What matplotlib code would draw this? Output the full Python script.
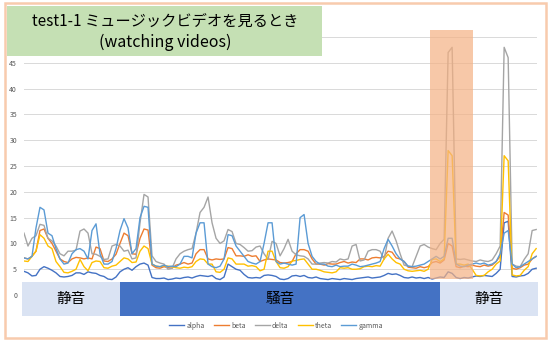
import numpy as np
import matplotlib.pyplot as plt
from matplotlib.patches import Rectangle

plt.rcParams['font.family'] = ['Noto Sans CJK JP', 'DejaVu Sans']

# ========= data =========
alpha = [4.6, 4.3, 3.7, 3.8, 5.0, 5.5, 5.2, 4.8, 4.3, 3.6,
         3.5, 3.6, 3.8, 4.3, 4.3, 4.0, 4.5, 4.3, 4.2, 3.8,
         3.6, 3.1, 3.0, 3.5, 4.5, 5.0, 5.3, 4.8, 5.5, 6.0,
         6.2, 5.8, 3.4, 3.2, 3.2, 3.3, 3.0, 3.1, 3.3, 3.2,
         3.4, 3.5, 3.3, 3.6, 3.8, 3.7, 3.6, 3.8, 3.2, 3.0,
         3.5, 6.0, 5.5, 5.0, 4.8, 4.0, 3.4, 3.3, 3.4, 3.3,
         3.8, 3.9, 3.8, 3.6, 3.1, 3.0, 3.2, 3.7, 3.8, 3.6,
         3.8, 3.4, 3.3, 3.5, 3.2, 3.1, 3.0, 3.2, 3.1, 3.0,
         3.2, 3.1, 3.0, 3.2, 3.3, 3.4, 3.5, 3.3, 3.4, 3.5,
         3.8, 4.2, 4.0, 4.1, 3.8, 3.4, 3.3, 3.5, 3.3, 3.4,
         3.2, 3.4, 3.1, 3.3, 3.5, 3.4, 4.5, 4.2, 3.4, 3.2,
         3.4, 3.3, 3.5, 3.7, 3.6, 3.8, 3.7, 3.6, 4.2, 5.0,
         14.0, 14.3, 3.6, 3.5, 3.7, 3.8, 4.2, 5.0, 5.2]

beta = [7.2, 7.0, 7.5, 8.5, 12.5, 12.8, 11.0, 10.0, 8.5, 7.0,
        6.5, 6.3, 7.0, 7.3, 7.2, 7.0, 7.2, 7.0, 9.3, 9.0,
        6.6, 6.5, 7.0, 7.9, 10.0, 12.0, 11.5, 8.0, 7.9, 11.0,
        12.8, 12.6, 5.8, 5.3, 5.2, 5.5, 5.3, 5.2, 5.8, 6.0,
        6.3, 6.0, 6.2, 8.0, 8.8, 8.8, 7.0, 6.8, 7.0, 6.9,
        7.0, 9.2, 9.0, 7.6, 7.6, 7.5, 7.8, 7.5, 7.6, 6.5,
        6.8, 7.0, 6.9, 6.8, 6.3, 6.2, 6.3, 6.5, 8.0, 8.8,
        8.8, 8.5, 7.0, 6.0, 6.0, 5.8, 6.1, 6.0, 6.0, 6.3,
        6.5, 6.2, 6.4, 6.3, 7.0, 7.0, 6.8, 7.2, 7.3, 7.2,
        7.5, 8.5, 8.3, 7.2, 7.0, 6.5, 5.4, 5.3, 5.2, 5.5,
        5.3, 5.5, 6.3, 6.5, 6.2, 6.8, 10.0, 9.5, 5.5, 5.3,
        5.6, 5.5, 5.8, 5.6, 5.5, 5.8, 5.6, 5.8, 6.5, 7.5,
        16.0, 15.5, 5.2, 5.0, 5.3, 5.8, 6.0, 7.0, 7.5]

delta = [12.0, 9.5, 11.0, 11.5, 13.7, 13.5, 11.0, 10.5, 9.5, 8.0,
         7.6, 8.5, 8.5, 8.7, 12.4, 12.8, 12.0, 8.0, 7.9, 7.5,
         6.9, 7.0, 9.5, 9.8, 9.5, 8.5, 8.7, 7.0, 7.2, 14.0,
         19.5, 19.0, 7.6, 6.5, 6.2, 6.0, 5.0, 5.2, 7.0, 8.0,
         8.5, 8.8, 9.0, 12.0, 16.0, 17.0, 19.0, 14.0, 11.0, 10.0,
         10.5, 12.7, 12.3, 10.0, 9.8, 9.2, 8.5, 8.6, 9.3, 9.5,
         8.0, 6.9, 10.4, 10.0, 7.6, 9.0, 10.8, 8.5, 7.8, 7.6,
         7.5, 7.0, 6.0, 6.0, 6.2, 6.3, 6.2, 6.5, 6.4, 7.0,
         6.8, 7.0, 9.5, 9.8, 6.6, 6.8, 8.5, 8.8, 8.8, 8.5,
         6.9, 11.0, 12.4, 10.5, 8.0, 5.8, 5.6, 5.5, 7.5, 9.5,
         9.8, 9.3, 9.0, 8.8, 10.0, 10.8, 47.0, 48.0, 7.0, 6.9,
         7.0, 6.8, 6.6, 6.5, 6.8, 6.6, 6.5, 6.8, 8.0, 9.5,
         48.0, 46.0, 6.0, 5.6, 5.5, 6.9, 8.0, 12.5, 12.7]

theta = [6.6, 6.5, 7.5, 8.5, 11.7, 11.0, 9.5, 9.0, 6.5, 5.5,
         4.4, 4.3, 4.6, 5.0, 6.9, 5.5, 4.7, 6.3, 6.6, 6.5,
         5.3, 5.2, 5.6, 5.8, 6.5, 7.2, 7.0, 6.3, 6.4, 8.5,
         9.5, 9.0, 6.0, 5.6, 5.5, 5.7, 5.6, 5.5, 5.3, 5.2,
         5.4, 5.3, 5.5, 6.5, 7.0, 6.9, 6.0, 6.0, 4.5, 4.4,
         5.0, 7.2, 7.0, 6.0, 6.0, 6.0, 5.6, 5.7, 5.5, 4.7,
         5.0, 8.5, 8.5, 6.5, 5.3, 5.2, 5.5, 6.6, 6.7, 6.9,
         7.0, 6.0, 5.0, 5.0, 4.8, 4.5, 4.4, 4.3, 4.5, 5.3,
         5.2, 5.3, 5.0, 5.0, 5.1, 5.5, 5.6, 5.5, 5.7, 5.6,
         7.0, 7.9, 7.0, 6.3, 6.0, 5.0, 4.7, 4.6, 4.7, 4.8,
         4.6, 5.0, 6.9, 7.0, 6.5, 7.0, 28.0, 27.0, 6.0, 6.0,
         5.8, 6.0, 5.0, 3.8, 3.7, 3.8, 4.5, 5.0, 6.0, 6.6,
         27.0, 26.0, 3.9, 3.7, 3.8, 4.8, 5.5, 8.0, 9.0]

gamma = [7.2, 7.0, 7.5, 13.0, 17.0, 16.5, 12.0, 11.5, 9.0, 7.0,
         6.0, 6.2, 8.0, 8.8, 9.0, 8.5, 7.0, 12.5, 13.8, 8.0,
         6.0, 6.0, 6.5, 9.0, 12.5, 14.8, 13.0, 8.0, 9.0, 15.0,
         17.2, 17.0, 6.0, 5.6, 5.5, 5.8, 5.5, 5.6, 5.5, 6.0,
         7.5, 7.5, 7.2, 12.0, 14.0, 14.0, 6.0, 5.5, 5.3, 5.6,
         7.0, 11.7, 11.5, 9.5, 8.5, 7.5, 6.5, 6.2, 6.0, 6.5,
         10.0, 14.0, 14.0, 6.5, 6.0, 6.2, 6.0, 5.8, 6.0, 15.0,
         15.6, 10.0, 7.5, 6.5, 6.0, 6.0, 5.6, 5.5, 5.8, 5.5,
         5.6, 5.6, 6.0, 5.8, 5.5, 5.6, 5.8, 6.0, 6.2, 6.5,
         9.0, 10.8, 9.5, 8.0, 7.0, 6.5, 5.6, 5.5, 5.6, 5.8,
         6.0, 6.5, 7.0, 7.5, 7.0, 7.5, 11.0, 11.0, 6.0, 5.6,
         5.5, 5.8, 6.0, 6.2, 6.0, 6.2, 5.8, 6.0, 6.5, 8.0,
         12.0, 12.5, 6.0, 5.3, 5.5, 6.0, 6.5, 7.0, 7.5]

series = {"alpha": alpha, "beta": beta, "delta": delta, "theta": theta, "gamma": gamma}
colors = {"alpha": "#4472C4", "beta": "#ED7D31", "delta": "#A5A5A5",
          "theta": "#FFC000", "gamma": "#5B9BD5"}

# condition segments (sample index) and the highlighted window
seg_edges = [-0.5, 24, 104, 128.5]
seg_labels = ["静音", "騒音", "静音"]
seg_colors = ["#DAE3F3", "#4472C4", "#DAE3F3"]
highlight = (101.5, 112.25)

t = np.arange(len(alpha))

# ========= figure =========
fig = plt.figure(figsize=(5.5, 3.42), dpi=100)
ax = fig.add_axes([0.0436, 0.0754, 0.9327, 0.8164])

for name, vals in series.items():
    ax.plot(t, vals, color=colors[name], linewidth=1.0, label=name, zorder=2)

ax.set_xlim(0, 128.2)
ax.set_ylim(-4.1, 50)
ax.set_yticks(range(0, 51, 5))
ax.set_xticks([])
ax.grid(axis="y", color="#D9D9D9", linewidth=0.7, zorder=0)
ax.set_axisbelow(True)
ax.tick_params(axis="y", length=0, labelsize=5, labelcolor="#595959", pad=5)
for s in ax.spines.values():
    s.set_visible(False)

# highlight window
ax.add_patch(Rectangle((highlight[0], 3.1), highlight[1] - highlight[0], 48.3,
                       facecolor="#F4B183", alpha=0.7, edgecolor="none",
                       clip_on=False, zorder=3))

# 静音 / 騒音 bands
for i, lab in enumerate(seg_labels):
    x0, x1 = seg_edges[i], seg_edges[i + 1]
    ax.add_patch(Rectangle((x0, -4.07), x1 - x0, 6.65, facecolor=seg_colors[i],
                           edgecolor="none", clip_on=False, zorder=4))
    ax.text((x0 + x1) / 2 if i != 1 else 64, -0.7, lab, ha="center", va="center",
            fontsize=10.5, color="black", zorder=5)

# legend
leg = ax.legend(loc="center", bbox_to_anchor=(0.502, 0.047),
                bbox_transform=fig.transFigure, ncol=5, frameon=False,
                fontsize=5, handlelength=2.2, columnspacing=1.3, handletextpad=0.3)
for txt in leg.get_texts():
    txt.set_color("#595959")

# title box
fig.add_artist(Rectangle((0.0127, 0.8363), 0.5727, 0.1462, transform=fig.transFigure,
                         facecolor="#C5E0B4", edgecolor="none", zorder=10))
fig.text(0.3, 0.937, "test1-1 ミュージックビデオを見るとき", ha="center", va="center",
         fontsize=11, zorder=11)
fig.text(0.3, 0.875, "(watching videos)", ha="center", va="center",
         fontsize=11.5, zorder=11)

# outer frame
fig.add_artist(Rectangle((0.009, 0.0117), 0.9836, 0.9795, transform=fig.transFigure,
                         fill=False, edgecolor="#F8CBAD", linewidth=1.8, zorder=12))

plt.savefig("out.png", dpi=100)
